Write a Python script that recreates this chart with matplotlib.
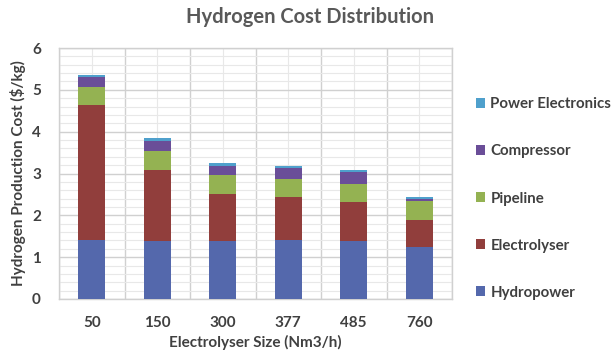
import matplotlib
matplotlib.use("Agg")
import matplotlib.pyplot as plt
import numpy as np
from matplotlib.ticker import MultipleLocator

plt.rcParams['font.family'] = ['Lato', 'DejaVu Sans']

categories = ["50", "150", "300", "377", "485", "760"]
hydropower = [1.42, 1.39, 1.39, 1.42, 1.38, 1.25]
electrolyser = [3.21, 1.69, 1.12, 1.01, 0.93, 0.65]
pipeline = [0.43, 0.46, 0.45, 0.44, 0.44, 0.45]
compressor = [0.24, 0.24, 0.23, 0.25, 0.29, 0.03]
power_electronics = [0.06, 0.06, 0.06, 0.05, 0.04, 0.05]

series = [
    ("Hydropower", hydropower, "#5468AC"),
    ("Electrolyser", electrolyser, "#913E3C"),
    ("Pipeline", pipeline, "#94B252"),
    ("Compressor", compressor, "#6A4E98"),
    ("Power Electronics", power_electronics, "#4FA0CC"),
]

fig = plt.figure(figsize=(6.14, 3.61), dpi=100)
ax = fig.add_axes([59/614, 1-299/361, (452-59)/614, (299-48)/361])

x = np.arange(len(categories))
bottom = np.zeros(len(categories))
handles = []
for name, vals, col in series:
    b = ax.bar(x, vals, width=0.41, bottom=bottom, color=col, label=name, zorder=3)
    handles.append(b)
    bottom += np.array(vals)

ax.set_xlim(-0.5, len(categories) - 0.5)
ax.set_ylim(0, 6)
ax.yaxis.set_major_locator(MultipleLocator(1))
ax.yaxis.set_minor_locator(MultipleLocator(0.2))
ax.set_xticks(x)
ax.set_xticks(np.arange(len(categories) + 1) - 0.5, minor=True)
ax.set_xticklabels(categories)

ax.grid(True, which='major', axis='y', color='#D0D0D0', linewidth=1.0, zorder=0)
ax.grid(True, which='minor', axis='y', color='#E8E8E8', linewidth=0.8, zorder=0)
ax.grid(True, which='minor', axis='x', color='#D0D0D0', linewidth=1.0, zorder=0)
ax.grid(True, which='major', axis='x', color='#E8E8E8', linewidth=0.8, zorder=0)
ax.tick_params(which='both', length=0)
ax.tick_params(axis='x', pad=12)
ax.tick_params(axis='y', pad=13)
for s in ax.spines.values():
    s.set_color('#D0D0D0')
    s.set_linewidth(1.0)

for lbl in ax.get_xticklabels() + ax.get_yticklabels():
    lbl.set_fontsize(11)
    lbl.set_fontweight('bold')
    lbl.set_color('#404040')

ax.set_xlabel("Electrolyser Size (Nm3/h)", fontsize=11, fontweight='bold', color='#404040', labelpad=4)
ax.set_ylabel("Hydrogen Production Cost ($/kg)", fontsize=11, fontweight='bold', color='#404040', labelpad=4)

fig.text(0.505, 0.952, "Hydrogen Cost Distribution", ha='center', va='center',
         fontsize=14.5, fontweight='bold', color='#595959')

leg = fig.legend(handles[::-1], [s[0] for s in series][::-1], loc='upper left',
                 bbox_to_anchor=(462/614, 1-84/361), frameon=False,
                 handlelength=0.65, handleheight=0.65, handletextpad=0.35,
                 labelspacing=2.2, prop={'weight': 'bold', 'size': 10.8})
for t in leg.get_texts():
    t.set_color('#404040')

fig.savefig("out.png", dpi=100)
